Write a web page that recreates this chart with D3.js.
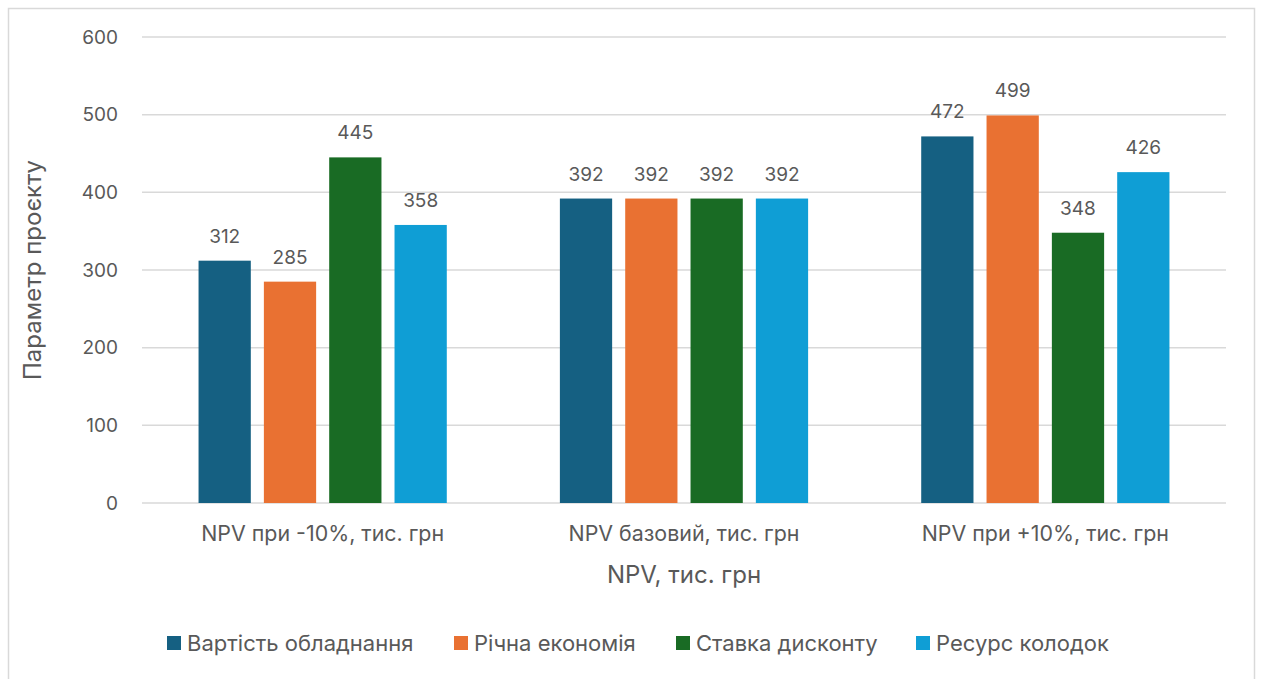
<!DOCTYPE html>
<html>
<head>
<meta charset="utf-8">
<script src="https://cdn.jsdelivr.net/npm/d3@7"></script>
<style>
  body { margin: 0; background: #fff; }
  svg text { font-family: Inter, "Open Sans", sans-serif; fill: #595959; }
</style>
</head>
<body>
<div id="chart"></div>
<script>
const categories = ["NPV при -10%, тис. грн", "NPV базовий, тис. грн", "NPV при +10%, тис. грн"]
const seriesNames = ["Вартість обладнання", "Річна економія", "Ставка дисконту", "Ресурс колодок"]
const seriesValues = [
  [312, 392, 472],
  [285, 392, 499],
  [445, 392, 348],
  [358, 392, 426]
]
const colors = ["#156082", "#E97132", "#196B24", "#0F9ED5"]
const yTicks = [0, 100, 200, 300, 400, 500, 600]

const width = 1261, height = 679
const margin = { top: 37, right: 35, bottom: 176, left: 142 }

const svg = d3.select('#chart').append('svg')
  .attr('width', width)
  .attr('height', height)

// outer chart border
svg.append('rect')
  .attr('x', 8.5).attr('y', 8.5)
  .attr('width', 1246).attr('height', 700)
  .attr('fill', 'none')
  .attr('stroke', '#d9d9d9')
  .attr('stroke-width', 1.5)

const x0 = d3.scaleBand()
  .domain(categories)
  .range([margin.left, width - margin.right])
  .paddingInner(0.313)
  .paddingOuter(0.1565)

const x1 = d3.scaleBand()
  .domain(seriesNames)
  .range([0, x0.bandwidth()])
  .paddingInner(0.2)

const y = d3.scaleLinear()
  .domain([0, 600])
  .range([height - margin.bottom, margin.top])

// gridlines
svg.append('g')
  .selectAll('line')
  .data(yTicks)
  .join('line')
  .attr('x1', margin.left)
  .attr('x2', width - margin.right)
  .attr('y1', d => y(d))
  .attr('y2', d => y(d))
  .attr('stroke', '#d9d9d9')
  .attr('stroke-width', 1.5)

// y tick labels
svg.append('g')
  .selectAll('text')
  .data(yTicks)
  .join('text')
  .attr('x', 118)
  .attr('y', d => y(d))
  .attr('dy', '0.35em')
  .attr('text-anchor', 'end')
  .attr('font-size', 19)
  .text(d => d)

// bars
const groups = svg.append('g')
  .selectAll('g')
  .data(seriesNames)
  .join('g')
  .attr('fill', (d, i) => colors[i])

groups.selectAll('rect')
  .data((s, si) => categories.map((c, ci) => ({ s, c, v: seriesValues[si][ci] })))
  .join('rect')
  .attr('x', d => x0(d.c) + x1(d.s))
  .attr('y', d => y(d.v))
  .attr('width', x1.bandwidth())
  .attr('height', d => y(0) - y(d.v))

// data labels
groups.selectAll('text')
  .data((s, si) => categories.map((c, ci) => ({ s, c, v: seriesValues[si][ci] })))
  .join('text')
  .attr('x', d => x0(d.c) + x1(d.s) + x1.bandwidth() / 2)
  .attr('y', d => y(d.v) - 18)
  .attr('text-anchor', 'middle')
  .attr('font-size', 19)
  .text(d => d.v)

// category labels
svg.append('g')
  .selectAll('text')
  .data(categories)
  .join('text')
  .attr('x', d => x0(d) + x0.bandwidth() / 2)
  .attr('y', 534)
  .attr('dy', '0.35em')
  .attr('text-anchor', 'middle')
  .attr('font-size', 21.4)
  .text(d => d)

// axis titles
svg.append('text')
  .attr('x', 684).attr('y', 575)
  .attr('dy', '0.35em')
  .attr('text-anchor', 'middle')
  .attr('font-size', 24)
  .text('NPV, тис. грн')

svg.append('text')
  .attr('transform', 'translate(33,270) rotate(-90)')
  .attr('dy', '0.35em')
  .attr('text-anchor', 'middle')
  .attr('font-size', 24)
  .text('Параметр проєкту')

// legend
const legendX = [167, 454, 676, 916]
const legend = svg.append('g')
  .selectAll('g')
  .data(seriesNames)
  .join('g')
  .attr('transform', (d, i) => `translate(${legendX[i]},643)`)

legend.append('rect')
  .attr('y', -7)
  .attr('width', 14).attr('height', 14)
  .attr('fill', (d, i) => colors[i])

legend.append('text')
  .attr('x', 20)
  .attr('dy', '0.35em')
  .attr('font-size', 22)
  .text(d => d)
</script>
</body>
</html>
